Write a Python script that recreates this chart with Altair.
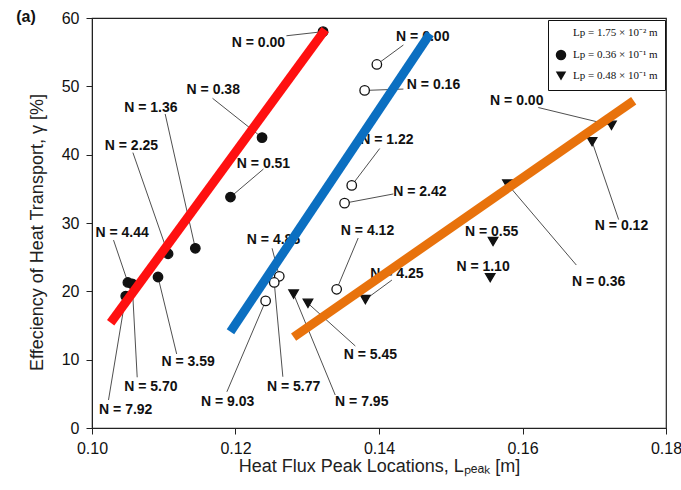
import altair as alt
import pandas as pd

# Legend entries (pulse length of each data series)
groups = ["Lp = 1.75 × 10⁻² m", "Lp = 0.36 × 10⁻¹ m", "Lp = 0.48 × 10⁻¹ m"]

# Lp = 1.75e-2 m (open circles)
open_n = ["0.00", "0.16", "1.22", "2.42", "4.12", "4.86", "5.77", "9.03"]
open_x = [0.1397, 0.1380, 0.1362, 0.1352, 0.1341, 0.1261, 0.1254, 0.1242]
open_y = [53.2, 49.4, 35.5, 32.9, 20.3, 22.2, 21.3, 18.6]
open_lab_x = [0.1461, 0.1476, 0.1411, 0.1457, 0.1384, 0.1253, 0.1281, 0.1189]
open_lab_y = [57.2, 50.2, 42.2, 34.6, 28.9, 27.5, 6.0, 3.85]
open_lead_x = [0.1434, 0.1434, 0.1401, 0.1420, 0.1371, 0.1251, 0.1266, 0.1188]
open_lead_y = [56.05, 49.6, 40.9, 34.25, 27.8, 26.3, 7.5, 5.3]

# Lp = 0.36e-1 m (filled circles)
fill_n = ["0.00", "0.38", "0.51", "1.36", "2.25", "3.59", "4.44", "5.70", "7.92"]
fill_x = [0.1322, 0.1237, 0.1193, 0.1144, 0.1106, 0.1092, 0.1050, 0.1056, 0.1047]
fill_y = [58.0, 42.5, 33.8, 26.3, 25.5, 22.1, 21.3, 21.1, 19.3]
fill_lab_x = [0.1232, 0.1169, 0.1239, 0.1082, 0.1055, 0.1134, 0.1042, 0.1082, 0.1047]
fill_lab_y = [56.4, 49.5, 38.7, 46.8, 41.3, 9.6, 28.5, 6.0, 2.7]
fill_lead_x = [0.1271, 0.1168, 0.1239, 0.1102, 0.1057, 0.1118, 0.1030, 0.1063, 0.1023]
fill_lead_y = [57.4, 48.25, 37.9, 45.95, 40.3, 10.83, 27.5, 7.42, 4.1]

# Lp = 0.48e-1 m (triangles)
tri_n = ["0.00", "0.12", "0.36", "0.55", "1.10", "4.25", "5.45", "7.95"]
tri_x = [0.1724, 0.1697, 0.1579, 0.1559, 0.1555, 0.1381, 0.1301, 0.1281]
tri_y = [44.3, 41.9, 35.7, 27.3, 22.0, 18.8, 18.25, 19.6]
tri_lab_x = [0.1592, 0.1738, 0.1706, 0.1557, 0.1545, 0.1425, 0.1388, 0.1376]
tri_lab_y = [47.9, 29.5, 21.4, 28.75, 23.5, 22.6, 10.7, 3.85]
tri_lead_x = [0.1622, 0.1734, 0.1675, None, None, 0.1418, 0.1367, 0.1339]
tri_lead_y = [46.9, 30.5, 23.85, None, None, 21.65, 12.0, 4.83]

# Linear trend lines (start and end of each fit)
fit_names = ["red", "blue", "orange"]
fit_x0 = [0.1026, 0.1193, 0.1281]
fit_x1 = [0.1325, 0.1471, 0.1755]
fit_y0 = [15.4, 14.1, 13.3]
fit_y1 = [58.3, 57.7, 47.9]
fit_colors = ["#ff1010", "#0b6fc1", "#e8720c"]

x_ticks = [0.10, 0.12, 0.14, 0.16, 0.18]
y_ticks = [0, 10, 20, 30, 40, 50, 60]


def frame(group, n, x, y, lx, ly, sx, sy):
    return pd.DataFrame({
        "group": group, "label": ["N = " + v for v in n],
        "x": x, "y": y, "lx": lx, "ly": ly, "sx": sx, "sy": sy,
    })


pts = pd.concat([
    frame(groups[0], open_n, open_x, open_y, open_lab_x, open_lab_y, open_lead_x, open_lead_y),
    frame(groups[1], fill_n, fill_x, fill_y, fill_lab_x, fill_lab_y, fill_lead_x, fill_lead_y),
    frame(groups[2], tri_n, tri_x, tri_y, tri_lab_x, tri_lab_y, tri_lead_x, tri_lead_y),
], ignore_index=True)

fits = pd.DataFrame({
    "fit": fit_names * 2,
    "x": fit_x0 + fit_x1,
    "y": fit_y0 + fit_y1,
    "order": [0, 0, 0, 1, 1, 1],
})

xscale = alt.Scale(domain=[0.10, 0.18], nice=False, zero=False)
yscale = alt.Scale(domain=[0, 60], nice=False)

x_axis = alt.Axis(values=x_ticks, format=".2f", title="Heat Flux Peak Locations, Lₚₑₐₖ [m]",
                  titleY=29, titleBaseline="top", titleX=287, labelFlush=False)
y_axis = alt.Axis(values=y_ticks, title="Effeciency of Heat Transport, γ [%]",
                  titleX=-46, titleY=214, labelPadding=7)

base = alt.Chart(pts)

leaders = base.transform_filter("isValid(datum.sx)").mark_rule(
    color="#222", strokeWidth=0.8
).encode(
    x=alt.X("sx:Q", scale=xscale, axis=x_axis),
    y=alt.Y("sy:Q", scale=yscale, axis=y_axis),
    x2="x:Q", y2="y:Q",
)

labels = base.mark_text(
    font="Liberation Sans", fontSize=14, fontWeight="bold", color="#111",
    align="center", baseline="middle"
).encode(
    x=alt.X("lx:Q", scale=xscale), y=alt.Y("ly:Q", scale=yscale), text="label:N"
)

legend = alt.Legend(
    title=None, orient="none", legendX=456, legendY=2,
    fillColor="white", strokeColor="#111", padding=7, rowPadding=6,
    labelFont="Liberation Serif", labelFontSize=11, labelColor="#111",
    symbolSize=110, symbolStrokeColor="#111", symbolStrokeWidth=1.2,
    labelOffset=6, cornerRadius=0,
)

points = base.mark_point(
    filled=True, opacity=1, stroke="#111", strokeWidth=1.3, size=90
).encode(
    x=alt.X("x:Q", scale=xscale),
    y=alt.Y("y:Q", scale=yscale),
    shape=alt.Shape("group:N", scale=alt.Scale(domain=groups, range=["circle", "circle", "triangle-down"]), legend=legend),
    fill=alt.Fill("group:N", scale=alt.Scale(domain=groups, range=["white", "#111", "#111"]), legend=legend),
)

trend = alt.Chart(fits).mark_line(strokeWidth=9, strokeCap="butt").encode(
    x=alt.X("x:Q", scale=xscale),
    y=alt.Y("y:Q", scale=yscale),
    detail="fit:N",
    order="order:Q",
    color=alt.Color("fit:N", scale=alt.Scale(domain=fit_names, range=fit_colors), legend=None),
)

panel_tag = alt.Chart(pd.DataFrame({"t": ["(a)"]})).mark_text(
    font="Liberation Sans", fontSize=16, fontWeight="bold", color="#111",
    align="center", baseline="middle"
).encode(text="t:N", x=alt.value(-66), y=alt.value(-1))

chart = alt.layer(leaders, labels, points, trend, panel_tag).resolve_scale(
    color="independent"
).properties(
    width=574, height=410,
    padding={"left": 92, "top": 18, "right": 15, "bottom": 62},
    autosize=alt.AutoSizeParams(type="none"),
).configure_view(
    stroke="#222", strokeWidth=1.2
).configure_axis(
    grid=False, domainColor="#222", tickColor="#222", tickSize=6,
    labelFont="Liberation Sans", labelFontSize=16, labelColor="#111", labelPadding=6,
    titleFont="Liberation Sans", titleFontSize=18, titleFontWeight="normal", titleColor="#222",
)

chart.save("out.html", embed_options={"renderer": "svg", "actions": False})
